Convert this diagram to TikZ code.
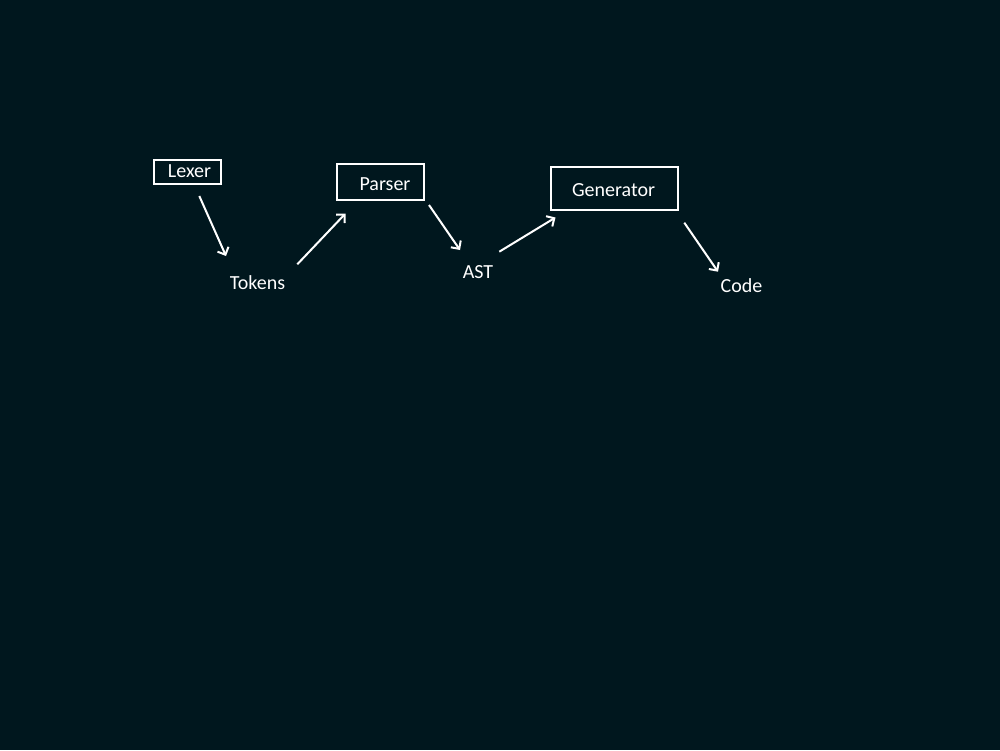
\documentclass[tikz,border=0pt]{standalone}
\usepackage{fontspec}
\setmainfont{Carlito}
\usetikzlibrary{arrows.meta}
\definecolor{bg}{HTML}{00171E}
\tikzset{
  box/.style={draw=white, line width=2pt, inner sep=0pt},
  txt/.style={text=white, inner sep=0pt, anchor=base, font=\fontsize{20}{24}\selectfont},
  arr/.style={draw=white, line width=2pt, -{Straight Barb[length=6pt,width=12pt,line width=2pt]}}
}
\begin{document}
\begin{tikzpicture}[x=1pt,y=-1pt]
\fill[bg] (0,0) rectangle (1000,750);
\useasboundingbox (0,0) rectangle (1000,750);
% boxes
\node[box, minimum width=67pt, minimum height=24pt] (lexer) at (187.5,172) {};
\node[box, minimum width=87pt, minimum height=36pt] (parser) at (380.3,182) {};
\node[box, minimum width=127pt, minimum height=43pt] (generator) at (614.2,188.5) {};
% labels
\node[txt] (lexert) at (189.5,177) {Lexer};
\node[txt] (parsert) at (385,190) {Parser};
\node[txt] (generatort) at (613.5,196.5) {Generator};
\node[txt] (tokens) at (257.5,289) {Tokens};
\node[txt] (ast) at (478,278) {AST};
\node[txt] (code) at (741.5,292) {Code};
% connector end points
\coordinate (a1) at (199.3,196);
\coordinate (a2) at (226,256);
\coordinate (b1) at (297.3,264.3);
\coordinate (b2) at (345.5,213.5);
\coordinate (c1) at (429,205);
\coordinate (c2) at (460,250);
\coordinate (d1) at (499.3,251.7);
\coordinate (d2) at (555.5,217.5);
\coordinate (e1) at (684.3,222.7);
\coordinate (e2) at (718,271.7);
\draw[arr] (a1) -- (a2);
\draw[arr] (b1) -- (b2);
\draw[arr] (c1) -- (c2);
\draw[arr] (d1) -- (d2);
\draw[arr] (e1) -- (e2);
\end{tikzpicture}
\end{document}
